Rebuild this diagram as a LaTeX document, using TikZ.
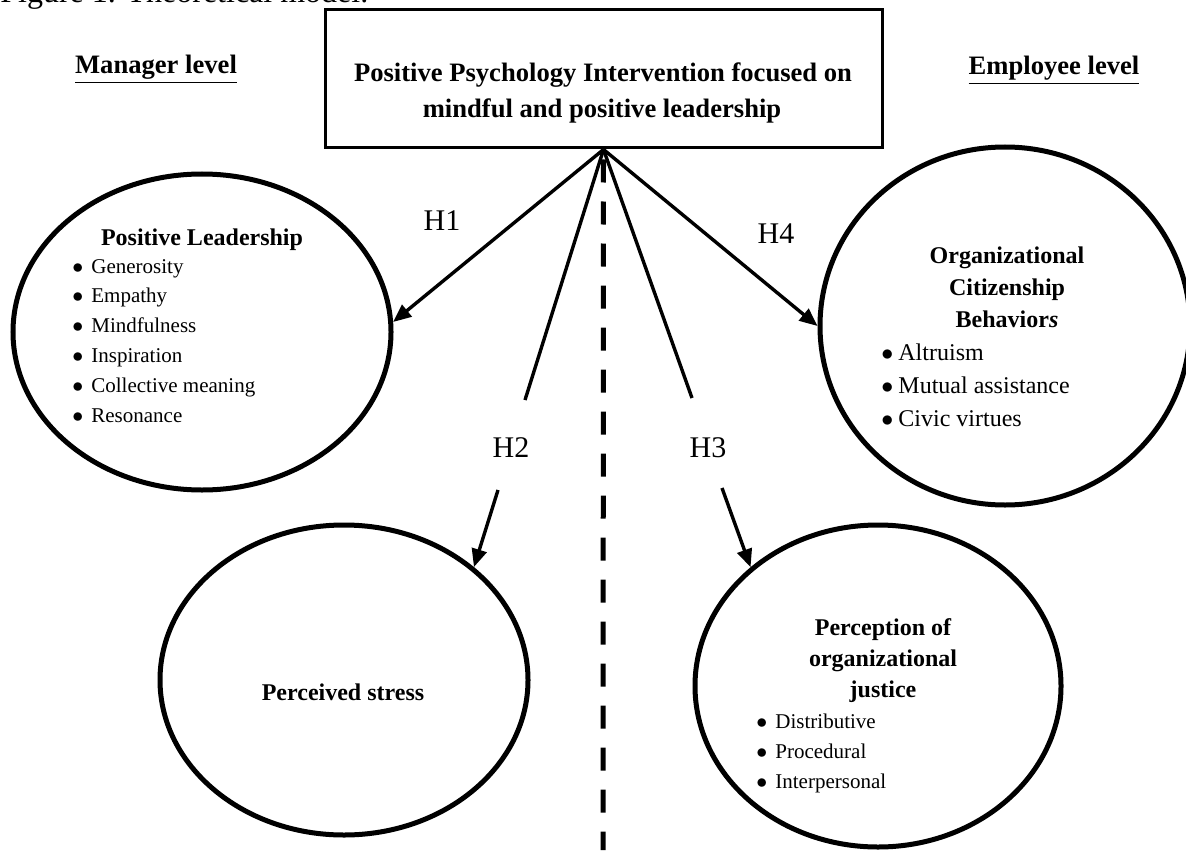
\documentclass[tikz,border=0pt]{standalone}
\usepackage{fontspec}
\setmainfont{Liberation Serif}
\usetikzlibrary{arrows.meta, shapes.geometric}

\tikzset{
  oval/.style={ellipse, draw, line width=2.5pt, inner sep=0pt},
  link/.style={line width=1.7pt},
  hyparrow/.style={link, -{Triangle[length=9pt, width=7.5pt]}},
  item/.style={anchor=base west, inner sep=0pt, font=\fontsize{10.5}{12}\selectfont},
  bigitem/.style={anchor=base west, inner sep=0pt, font=\fontsize{12}{14}\selectfont},
  heading/.style={anchor=base, inner sep=0pt, font=\fontsize{12}{14}\selectfont\bfseries},
  level/.style={anchor=base, inner sep=0pt, font=\fontsize{13.3}{16}\selectfont\bfseries},
  hyp/.style={anchor=base, inner sep=0pt, font=\fontsize{15}{18}\selectfont},
}

\begin{document}
\begin{tikzpicture}[x=0.5pt, y=-0.5pt]
\useasboundingbox (0,0) rectangle (1186,850);
\clip (0,0) rectangle (1186,850);

% Caption (cut off at the top)
\node[anchor=base west, inner sep=0pt, font=\fontsize{16}{18}\selectfont] (cap) at (0,3) {Figure 1. Theoretical model.};

% Levels
\node[level] (mgr) at (156,74) {\underline{Manager level}};
\node[level] (emp) at (1054,75) {\underline{Employee level}};

% Intervention box
\node[draw, line width=1.5pt, inner sep=0pt, minimum width=278.5pt, minimum height=69pt] (ppi) at (603.5,79) {};
\node[level] (ppi1) at (603,82) {Positive Psychology Intervention focused on};
\node[level] (ppi2) at (602,118) {mindful and positive leadership};

% Outcome ellipses
\node[oval, minimum width=189pt, minimum height=158pt] (lead) at (202,332) {};
\node[oval, minimum width=185pt, minimum height=179pt] (ocb) at (1005,326) {};
\node[oval, minimum width=184pt, minimum height=155pt] (stress) at (344,680) {};
\node[oval, minimum width=183pt, minimum height=161pt] (just) at (878,686) {};

% Ellipse contents
\node[heading] (leadt) at (202,245) {Positive Leadership};
\foreach \t [count=\i] in {Generosity, Empathy, Mindfulness, Inspiration, Collective meaning, Resonance} {
  \node[item] (lead\i) at (72,{273+29.8*(\i-1)}) {\makebox[9.5pt][l]{$\bullet$}\t};
}

\foreach \t [count=\i] in {Organizational, Citizenship, Behavior\textit{s}} {
  \node[heading] (ocbt\i) at (1007,{263+32*(\i-1)}) {\t};
}
\foreach \t [count=\i] in {Altruism, Mutual assistance, Civic virtues} {
  \node[bigitem] (ocb\i) at (881,{360+33.3*(\i-1)}) {\makebox[8.5pt][l]{$\bullet$}\t};
}

\node[heading] (stresst) at (343,700) {Perceived stress};

\foreach \t [count=\i] in {Perception of, organizational, justice} {
  \node[heading] (justt\i) at (883,{635+31*(\i-1)}) {\t};
}
\foreach \t [count=\i] in {Distributive, Procedural, Interpersonal} {
  \node[item] (just\i) at (756,{728+30*(\i-1)}) {\makebox[9.5pt][l]{$\bullet$}\t};
}

% Divider between levels
\coordinate (divend) at (603,850);
\draw[line width=2.5pt, dash pattern=on 11.5pt off 9.5pt, dash phase=16pt] (ppi.south) -- (divend);

% Hypotheses
\coordinate (h2top) at (525,400);
\coordinate (h2low) at (498,490);
\coordinate (h3top) at (692,398);
\coordinate (h3low) at (722,488);

\draw[hyparrow] (ppi.south) -- (lead.3);
\draw[hyparrow] (ppi.south) -- (ocb.west);
\draw[link] (ppi.south) -- (h2top);
\draw[hyparrow] (h2low) -- (stress.41);
\draw[link] (ppi.south) -- (h3top);
\draw[hyparrow] (h3low) -- (just.137);

\node[hyp] (h1) at (442,230) {H1};
\node[hyp] (h2) at (511,457) {H2};
\node[hyp] (h3) at (708,457) {H3};
\node[hyp] (h4) at (776,243) {H4};

\end{tikzpicture}
\end{document}
